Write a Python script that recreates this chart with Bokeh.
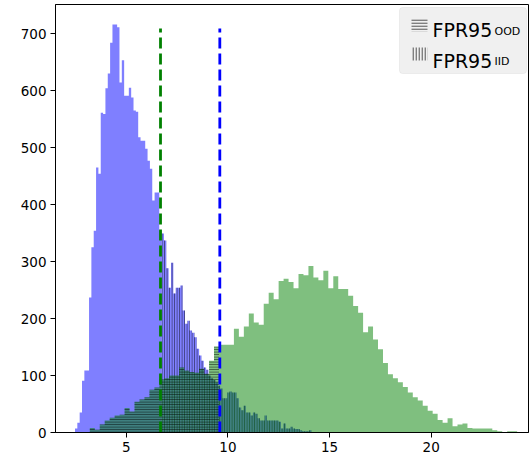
from bokeh.plotting import figure
from bokeh.models import ColumnDataSource, FixedTicker, BoxAnnotation, Label, Range1d
from bokeh.embed import file_html
from bokeh.resources import INLINE

# ---- data ----
# blue histogram (IID scores): first bin edge, bin width, counts
blue_start = 2.475
blue_width = 0.1152
blue_counts = [7, 17, 35, 91, 109, 109, 237, 325, 354, 465,
               454, 561, 559, 604, 630, 684, 716, 716, 711, 614,
               653, 591, 591, 605, 588, 565, 563, 518, 512, 512,
               498, 477, 463, 407, 421, 421, 354, 349, 337, 288,
               254, 298, 244, 254, 254, 258, 214, 191, 196, 179,
               175, 167, 147, 135, 126, 114, 110, 100, 95, 92,
               88, 82, 77, 60, 60, 70, 72, 70, 70, 60,
               44, 39, 47, 35, 35, 30, 35, 33, 25, 21,
               21, 30, 21, 21, 21, 21, 21, 19, 7, 16,
               7, 7, 10, 7, 6, 6, 4, 2, 2, 2, 4]

# green histogram (OOD scores)
green_start = 3.204
green_width = 0.2445
green_counts = [8, 5, 14, 21, 26, 30, 31, 43, 37, 54,
                58, 62, 75, 79, 93, 95, 100, 100, 114, 109,
                106, 105, 112, 103, 126, 151, 154, 154, 154, 182,
                168, 186, 209, 193, 189, 226, 245, 234, 266, 270,
                264, 253, 278, 276, 292, 272, 267, 284, 253, 274,
                252, 252, 240, 222, 210, 176, 186, 163, 146, 122,
                102, 95, 88, 80, 70, 62, 56, 47, 38, 33,
                22, 17, 25, 11, 14, 16, 8, 7, 7, 7,
                7, 4, 2, 1, 2, 2, 1]

# thresholds (dashed lines)
thr_green = 6.683
thr_blue = 9.601
vline_top = 709

x_ticks = [5, 10, 15, 20]
y_ticks = [0, 100, 200, 300, 400, 500, 600, 700]
legend_main = ["FPR95", "FPR95"]
legend_sub = ["OOD", "IID"]


# ---- histogram outlines (one step polygon per hatched / unhatched run) ----
def hist_patches(start, width, counts, is_hatched, pattern):
    n = len(counts)
    lefts = [start + i * width for i in range(n)]
    flags = [is_hatched(l + width / 2) for l in lefts]
    xs, ys, pats = [], [], []
    i = 0
    while i < n:
        j = i
        while j + 1 < n and flags[j + 1] == flags[i]:
            j += 1
        px, py = [lefts[i]], [0]
        for k in range(i, j + 1):
            px += [lefts[k], lefts[k] + width]
            py += [counts[k], counts[k]]
        px.append(lefts[j] + width)
        py.append(0)
        xs.append(px)
        ys.append(py)
        pats.append(pattern if flags[i] else "blank")
        i = j + 1
    return ColumnDataSource(dict(xs=xs, ys=ys, hatch=pats))


blue_src = hist_patches(blue_start, blue_width, blue_counts,
                        lambda c: c > thr_green, "vertical_line")
green_src = hist_patches(green_start, green_width, green_counts,
                         lambda c: c < thr_blue, "horizontal_line")

p = figure(width=530, height=462, output_backend="svg", toolbar_location=None,
           x_range=Range1d(1.516, 24.79), y_range=Range1d(0, 751),
           min_border_left=55, min_border_right=2, min_border_top=4, min_border_bottom=30)

for src, col in ((blue_src, "blue"), (green_src, "green")):
    p.patches(xs="xs", ys="ys", source=src,
              fill_color=col, fill_alpha=0.5, line_color=None,
              hatch_pattern="hatch", hatch_color="black", hatch_alpha=0.55,
              hatch_scale=2.5, hatch_weight=1)

p.segment(x0=[thr_green], y0=[0], x1=[thr_green], y1=[vline_top],
          line_color="green", line_width=2.8, line_dash="11 5")
p.segment(x0=[thr_blue], y0=[0], x1=[thr_blue], y1=[vline_top],
          line_color="blue", line_width=2.8, line_dash="11 5")

# ---- axes ----
p.xaxis.ticker = FixedTicker(ticks=x_ticks)
p.yaxis.ticker = FixedTicker(ticks=y_ticks)
for ax in (p.xaxis, p.yaxis):
    ax.minor_tick_line_color = None
    ax.major_tick_in = 0
    ax.major_tick_out = 5
    ax.axis_line_color = "black"
    ax.major_tick_line_color = "black"
    ax.major_label_text_font = "DejaVu Sans"
    ax.major_label_text_font_size = "13.5px"
    ax.major_label_text_color = "black"
    ax.major_label_standoff = 4
p.grid.visible = False
p.outline_line_color = "black"
p.outline_line_alpha = 1
p.outline_line_width = 1

# ---- custom legend (screen units, relative to the frame) ----
p.add_layout(BoxAnnotation(left=344, right=471, bottom=359, top=425,
                           left_units="screen", right_units="screen",
                           bottom_units="screen", top_units="screen",
                           fill_color="#f0f0f0", fill_alpha=1,
                           line_color="#cfcfcf", line_width=1, border_radius=3))
icons = [("horizontal_line", 401, 414), ("vertical_line", 372, 385)]
for pat, b, t in icons:
    p.add_layout(BoxAnnotation(left=356, right=372, bottom=b, top=t,
                               left_units="screen", right_units="screen",
                               bottom_units="screen", top_units="screen",
                               fill_alpha=0, line_color=None,
                               hatch_pattern=pat, hatch_color="#808080",
                               hatch_alpha=1, hatch_scale=3, hatch_weight=1.8))
base = [402.5, 372]
for i in range(2):
    p.add_layout(Label(x=377, y=base[i], x_units="screen", y_units="screen",
                       text=legend_main[i], text_font="DejaVu Sans",
                       text_font_size="19px", text_color="black",
                       text_baseline="alphabetic"))
    p.add_layout(Label(x=439, y=base[i] - 1, x_units="screen", y_units="screen",
                       text=legend_sub[i], text_font="DejaVu Sans",
                       text_font_size="11px", text_color="black",
                       text_baseline="alphabetic"))

open("out.html", "w").write(file_html(p, INLINE))
